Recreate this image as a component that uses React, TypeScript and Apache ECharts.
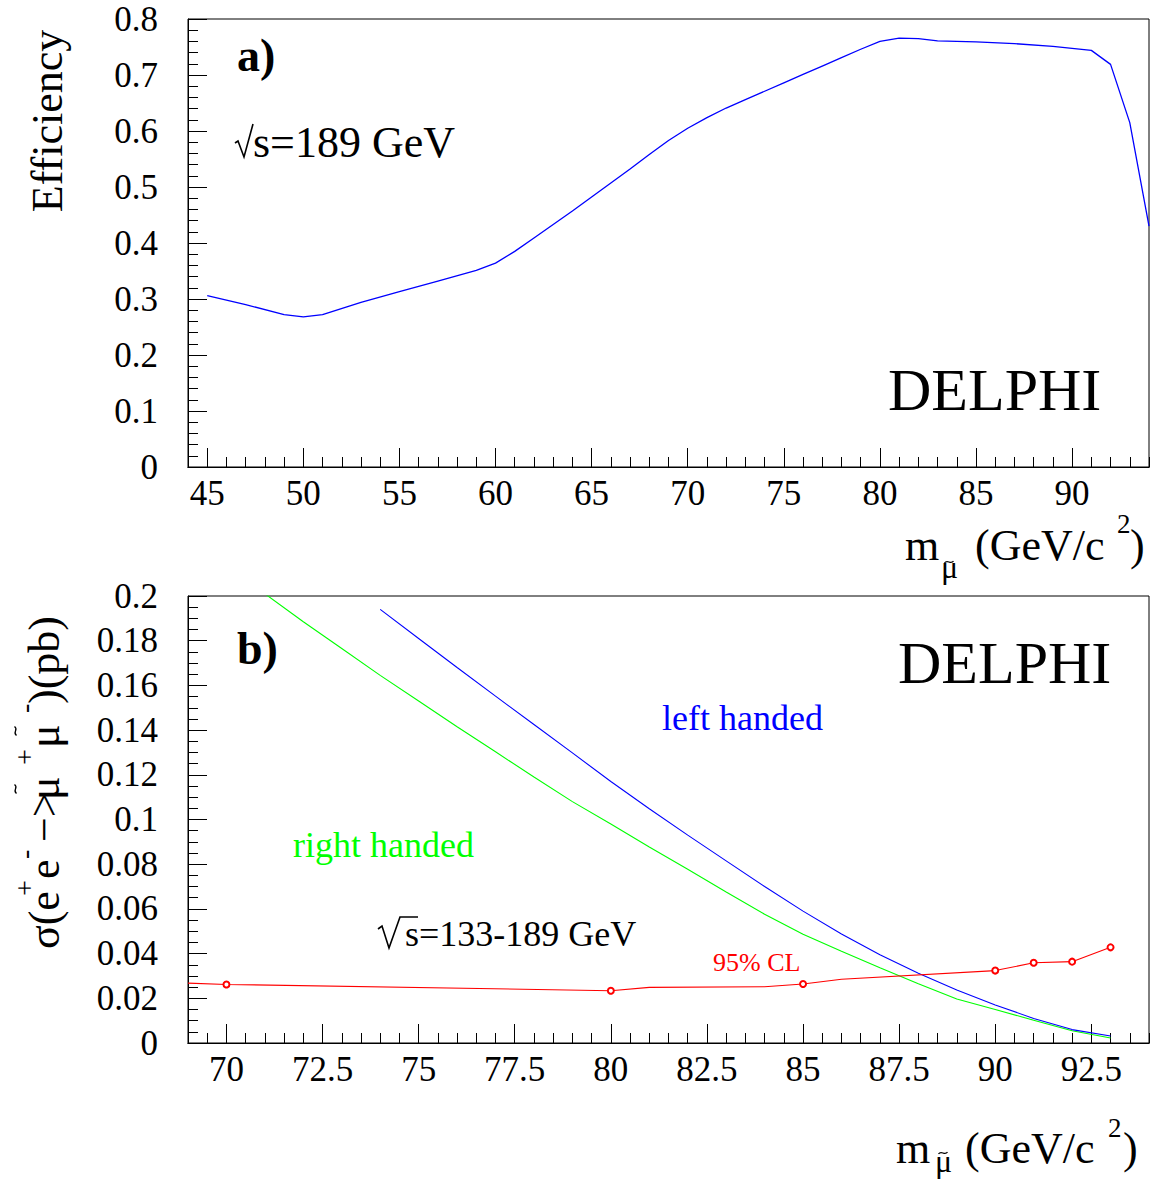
import React, { useEffect, useRef } from "react";
import * as echarts from "echarts";

// ---------- data ----------
// panel a: efficiency vs smuon mass (sqrt(s)=189 GeV)
const effMass = [45, 47, 49, 50, 51, 53, 55, 57, 59, 60, 61, 62, 63, 64, 65, 66, 67, 68, 69, 70, 71, 72, 73, 74, 75, 76, 77, 78, 79, 80, 81, 82, 83, 85, 87, 89, 91, 92, 93, 94];
const effValue = [0.306, 0.29, 0.272, 0.268, 0.272, 0.294, 0.313, 0.332, 0.351, 0.364, 0.385, 0.409, 0.433, 0.457, 0.482, 0.507, 0.532, 0.558, 0.583, 0.605, 0.624, 0.641, 0.656, 0.671, 0.686, 0.701, 0.716, 0.731, 0.746, 0.76, 0.766, 0.765, 0.761, 0.759, 0.756, 0.751, 0.744, 0.719, 0.615, 0.43];

// panel b: cross sections
const rightMass = [71, 72, 73, 74, 75, 76, 77, 78, 79, 80, 81, 82, 83, 84, 85, 86, 87, 88, 89, 90, 91, 92, 93];
const rightXsec = [0.201, 0.1885, 0.1765, 0.1645, 0.153, 0.1415, 0.1303, 0.119, 0.108, 0.098, 0.0877, 0.0777, 0.0676, 0.0576, 0.0487, 0.041, 0.0337, 0.0265, 0.0197, 0.015, 0.0102, 0.0055, 0.0022];
const leftMass = [74, 75, 76, 77, 78, 79, 80, 81, 82, 83, 84, 85, 86, 87, 88, 89, 90, 91, 92, 93];
const leftXsec = [0.194, 0.181, 0.168, 0.1552, 0.1425, 0.1298, 0.117, 0.1048, 0.093, 0.0815, 0.07, 0.059, 0.0488, 0.0395, 0.0312, 0.0237, 0.017, 0.011, 0.006, 0.0031];
const limitMass = [69, 70, 80, 81, 84, 85, 86, 90, 91, 92, 93];
const limitXsec = [0.0268, 0.0262, 0.0234, 0.0249, 0.0252, 0.0264, 0.0285, 0.0324, 0.0359, 0.0364, 0.0428];
const limitMarked = [false, true, true, false, false, true, false, true, true, true, true];

// tick labels
const aMajorTicks = [45, 50, 55, 60, 65, 70, 75, 80, 85, 90];
const bMajorTicks = [70, 72.5, 75, 77.5, 80, 82.5, 85, 87.5, 90, 92.5];

const SERIF = "Liberation Serif";

// baseline helper: SVG text with dominant-baseline central
const txt = (text: string, x: number, yb: number, fs: number, o: any = {}) => ({
  type: "text",
  x,
  y: yb - 0.3375 * fs,
  silent: true,
  style: {
    text,
    fontSize: fs,
    fontFamily: SERIF,
    fontWeight: o.bold ? "bold" : "normal",
    fill: o.fill || "#000",
    align: o.align || "left",
    verticalAlign: "middle",
  },
});

// rotated (bottom-to-top) text piece; y = reading start, x = central line
const rtxt = (text: string, x: number, y: number, fs: number) => ({
  type: "text",
  x,
  y,
  rotation: Math.PI / 2,
  silent: true,
  style: { text, fontSize: fs, fontFamily: SERIF, fill: "#000", align: "left", verticalAlign: "middle" },
});

// tilde accents drawn as small curves
const hTilde = (cx: number, cy: number) => ({
  type: "bezierCurve",
  silent: true,
  shape: { x1: cx - 4.5, y1: cy + 1, cpx1: cx - 1.5, cpy1: cy - 3.5, cpx2: cx + 1.5, cpy2: cy + 3.5, x2: cx + 4.5, y2: cy - 1 },
  style: { stroke: "#000", lineWidth: 1.3, fill: "none" },
});
const vTilde = (cx: number, cy: number) => ({
  type: "bezierCurve",
  silent: true,
  shape: { x1: cx + 1, y1: cy + 4.5, cpx1: cx - 3.5, cpy1: cy + 1.5, cpx2: cx + 3.5, cpy2: cy - 1.5, x2: cx - 1, y2: cy - 4.5 },
  style: { stroke: "#000", lineWidth: 1.3, fill: "none" },
});

const massTitle = (p: any) => [
  txt("m", p.mX, p.yb, 44),
  txt("μ", p.muX, p.muB, 32),
  hTilde(p.tX, p.tY),
  txt("(GeV/c", p.pX, p.yb, 44),
  txt("2", p.sX, p.sB, 27),
  txt(")", p.cX, p.yb, 44),
];

const axisCommon = {
  axisLine: { onZero: false, lineStyle: { color: "#000", width: 1 } },
  splitLine: { show: false },
};
const labelStyle = { fontSize: 35, fontFamily: SERIF, color: "#000" };

function xMinor(gridIndex: number, min: number, max: number, interval: number) {
  return {
    type: "value",
    gridIndex,
    min,
    max,
    interval,
    position: "bottom",
    ...axisCommon,
    axisTick: { inside: true, length: 10, lineStyle: { color: "#000" } },
    axisLabel: { show: false },
  };
}
function xMajor(gridIndex: number, min: number, max: number, ticks: number[]) {
  return {
    type: "value",
    gridIndex,
    min,
    max,
    position: "bottom",
    ...axisCommon,
    axisTick: { inside: true, length: 19, customValues: ticks, lineStyle: { color: "#000" } },
    axisLabel: { ...labelStyle, customValues: ticks, margin: 9, formatter: (v: number) => String(v) },
  };
}
function yAxis(gridIndex: number, max: number, interval: number, split: number) {
  return {
    type: "value",
    gridIndex,
    min: 0,
    max,
    interval,
    ...axisCommon,
    axisLine: { show: true, onZero: false, lineStyle: { color: "#000", width: 1 } },
    axisTick: { inside: true, length: 19, lineStyle: { color: "#000" } },
    minorTick: { show: true, splitNumber: split, length: 10, lineStyle: { color: "#000" } },
    minorSplitLine: { show: false },
    axisLabel: { ...labelStyle, margin: 30 },
  };
}

export default function App() {
  const ref = useRef<HTMLDivElement>(null);
  useEffect(() => {
    if (!ref.current) return;
    const chart = echarts.init(ref.current, undefined, { renderer: "svg" });
    const graphics: any[] = [
      // panel a texts
      txt("a)", 237, 71, 46, { bold: true }),
      { type: "polyline", silent: true, shape: { points: [[235, 143], [238, 141], [244, 157], [253, 124]] }, style: { stroke: "#000", lineWidth: 1.6, fill: "none" } },
      txt("s=189 GeV", 253, 157, 44),
      txt("DELPHI", 888, 410, 60),
      ...massTitle({ mX: 905, yb: 560, muX: 941, muB: 578, tX: 949, tY: 562, pX: 975, sX: 1117, sB: 533, cX: 1130 }),
      {
        type: "text", x: 47, y: 121, rotation: Math.PI / 2, silent: true,
        style: { text: "Efficiency", fontSize: 44, fontFamily: SERIF, fill: "#000", align: "center", verticalAlign: "middle" },
      },
      // panel b texts
      txt("b)", 237, 664, 46, { bold: true }),
      txt("DELPHI", 898, 683, 60),
      txt("left handed", 662, 730, 36, { fill: "#0000ff" }),
      txt("right handed", 293, 857, 36, { fill: "#00ff00" }),
      txt("95% CL", 713, 971, 26, { fill: "#ff0000" }),
      { type: "polyline", silent: true, shape: { points: [[378, 929], [382, 926], [389, 948], [400, 917], [418, 917]] }, style: { stroke: "#000", lineWidth: 1.6, fill: "none" } },
      txt("s=133-189 GeV", 405, 946, 36),
      ...massTitle({ mX: 896, yb: 1163, muX: 935, muB: 1172, tX: 943, tY: 1153, pX: 965, sX: 1108, sB: 1137, cX: 1123 }),
      // y title of panel b, piece by piece
      rtxt("σ(e", 44, 949, 44),
      rtxt("+", 24, 896, 28),
      rtxt("e", 44, 879, 44),
      rtxt("-", 24, 859, 28),
      rtxt("−>", 44, 842, 44),
      rtxt("μ", 44, 800, 44),
      rtxt("+", 24, 765, 28),
      rtxt("μ", 44, 748, 44),
      rtxt("-", 24, 713, 28),
      rtxt(")(pb)", 44, 704, 44),
      vTilde(15.5, 789),
      vTilde(15.5, 731),
    ];

    chart.setOption({
      animation: false,
      backgroundColor: "#fff",
      textStyle: { fontFamily: SERIF },
      grid: [
        { left: 188, top: 19, width: 961, height: 448, show: true, borderColor: "#000", borderWidth: 1, backgroundColor: "transparent" },
        { left: 188, top: 596, width: 961, height: 447, show: true, borderColor: "#000", borderWidth: 1, backgroundColor: "transparent" },
      ],
      xAxis: [
        xMinor(0, 44, 94, 1),
        xMajor(0, 44, 94, aMajorTicks),
        xMinor(1, 69, 94, 0.5),
        xMajor(1, 69, 94, bMajorTicks),
      ],
      yAxis: [yAxis(0, 0.8, 0.1, 5), yAxis(1, 0.2, 0.02, 4)],
      series: [
        {
          type: "line", xAxisIndex: 0, yAxisIndex: 0, symbol: "none", clip: true,
          data: effMass.map((m, i) => [m, effValue[i]]),
          lineStyle: { color: "#0000ff", width: 1.3 },
        },
        {
          type: "line", xAxisIndex: 2, yAxisIndex: 1, symbol: "none", clip: true,
          data: rightMass.map((m, i) => [m, rightXsec[i]]),
          lineStyle: { color: "#00ff00", width: 1.1 },
        },
        {
          type: "line", xAxisIndex: 2, yAxisIndex: 1, symbol: "none", clip: true,
          data: leftMass.map((m, i) => [m, leftXsec[i]]),
          lineStyle: { color: "#0000ff", width: 1.1 },
        },
        {
          type: "line", xAxisIndex: 2, yAxisIndex: 1, clip: true, showSymbol: true,
          symbolSize: 6,
          data: limitMass.map((m, i) => ({
            value: [m, limitXsec[i]],
            symbol: limitMarked[i] ? "emptyCircle" : "none",
          })),
          lineStyle: { color: "#ff0000", width: 1.1 },
          itemStyle: { color: "#ff0000", borderColor: "#ff0000", borderWidth: 1 },
        },
      ],
      graphic: graphics,
    });
    return () => chart.dispose();
  }, []);
  return (
    <div
      ref={ref}
      style={{ position: "fixed", left: 0, top: 0, width: 1154, height: 1189, background: "#fff" }}
    />
  );
}
